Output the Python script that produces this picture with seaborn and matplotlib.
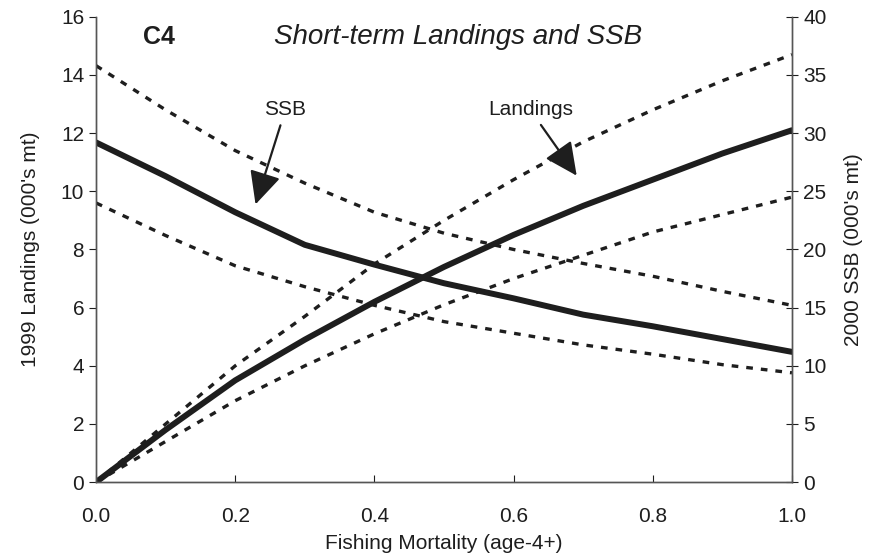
import pandas as pd
import matplotlib
matplotlib.use('Agg')
import matplotlib.pyplot as plt
import seaborn as sns

# values
fishing_mortality = [0.0, 0.1, 0.2, 0.3, 0.4, 0.5, 0.6, 0.7, 0.8, 0.9, 1.0]

# 1999 landings (000's mt), left axis
landings = [0.0, 1.8, 3.5, 4.9, 6.2, 7.4, 8.5, 9.5, 10.4, 11.3, 12.1]
landings_upper = [0.0, 2.0, 4.0, 5.7, 7.5, 9.0, 10.4, 11.7, 12.8, 13.8, 14.7]
landings_lower = [0.0, 1.4, 2.8, 4.0, 5.1, 6.1, 7.0, 7.8, 8.6, 9.2, 9.8]

# 2000 SSB (000's mt), right axis
ssb = [29.2, 26.3, 23.2, 20.4, 18.7, 17.1, 15.8, 14.4, 13.4, 12.3, 11.2]
ssb_upper = [35.8, 32.0, 28.5, 25.7, 23.2, 21.4, 20.0, 18.8, 17.7, 16.4, 15.2]
ssb_lower = [24.0, 21.2, 18.6, 16.8, 15.2, 13.8, 12.8, 11.8, 11.0, 10.1, 9.4]

df = pd.DataFrame({'f': fishing_mortality,
                   'landings': landings, 'landings_upper': landings_upper, 'landings_lower': landings_lower,
                   'ssb': ssb, 'ssb_upper': ssb_upper, 'ssb_lower': ssb_lower})

sns.set_style('ticks')
plt.rcParams['font.family'] = ['Liberation Sans', 'DejaVu Sans']

ink = '#1e1e1e'
fig, ax = plt.subplots(figsize=(8.77, 5.6), dpi=100)
fig.subplots_adjust(left=0.1095, right=0.903, bottom=0.139, top=0.97)
ax2 = ax.twinx()

sns.lineplot(data=df, x='f', y='landings', ax=ax, color=ink, linewidth=4.3)
sns.lineplot(data=df, x='f', y='landings_upper', ax=ax, color=ink, linewidth=2.4)
sns.lineplot(data=df, x='f', y='landings_lower', ax=ax, color=ink, linewidth=2.4)
sns.lineplot(data=df, x='f', y='ssb', ax=ax2, color=ink, linewidth=4.3)
sns.lineplot(data=df, x='f', y='ssb_upper', ax=ax2, color=ink, linewidth=2.4)
sns.lineplot(data=df, x='f', y='ssb_lower', ax=ax2, color=ink, linewidth=2.4)
for line in ax.lines + ax2.lines:
    line.set_solid_joinstyle('round')
for line in ax.lines[1:] + ax2.lines[1:]:
    line.set_dashes((2.0, 2.4))

ax.set_xlim(0, 1)
ax.set_ylim(0, 16)
ax2.set_ylim(0, 40)
ax.set_xticks([0.0, 0.2, 0.4, 0.6, 0.8, 1.0])
ax.set_xticklabels(['0.0', '0.2', '0.4', '0.6', '0.8', '1.0'])
ax.set_yticks(range(0, 17, 2))
ax2.set_yticks(range(0, 41, 5))

ax.set_xlabel('Fishing Mortality (age-4+)', fontsize=15, color=ink, labelpad=6)
ax.set_ylabel("1999 Landings (000's mt)", fontsize=15, color=ink, labelpad=15)
ax2.set_ylabel("2000 SSB (000's mt)", fontsize=15, color=ink, labelpad=13)

ax.tick_params(axis='y', direction='out', length=5, labelsize=15, colors=ink)
ax.tick_params(axis='x', direction='in', length=5, labelsize=15, colors=ink, pad=18)
ax2.tick_params(axis='y', direction='inout', length=9, labelsize=15, colors=ink)

for a in (ax, ax2):
    a.spines['top'].set_visible(False)
    for s in ('left', 'right', 'bottom'):
        a.spines[s].set_color('#555555')
        a.spines[s].set_linewidth(1)

ax.text(0.09, 15.3, 'C4', fontsize=18, fontweight='bold', color=ink, ha='center', va='center')
ax.text(0.52, 15.3, 'Short-term Landings and SSB', fontsize=20, fontstyle='italic', color=ink,
        ha='center', va='center')

arrow = dict(arrowstyle='-|>,head_length=1.35,head_width=0.65', color=ink, lw=1.6)
ax.annotate('SSB', xy=(0.228, 9.46), xytext=(0.272, 12.8), fontsize=15, color=ink,
            ha='center', va='center', arrowprops=arrow)
ax.annotate('Landings', xy=(0.693, 10.46), xytext=(0.624, 12.8), fontsize=15, color=ink,
            ha='center', va='center', arrowprops=arrow)

plt.savefig('out.png', dpi=100)
